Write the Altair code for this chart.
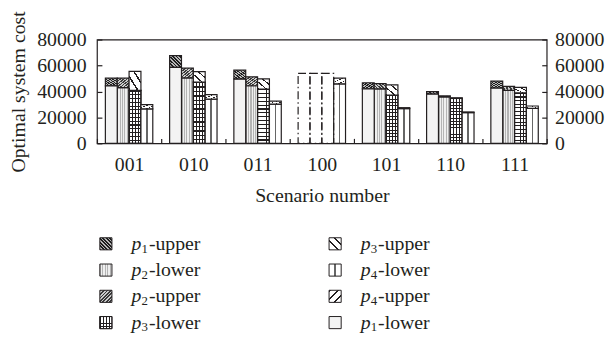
import altair as alt
import pandas as pd

# ---------------- data ----------------
scenarios = ["001", "010", "011", "100", "101", "110", "111"]
params = ["p1", "p2", "p3", "p4"]

p1_lower = [44300, 58600, 49500, None, 42000, 37900, 42600]
p1_upper = [5900, 9000, 6900, None, 4700, 2000, 5400]
p2_lower = [43000, 50500, 44400, None, 42000, 35800, 40900]
p2_upper = [7200, 7500, 6900, None, 4000, 800, 3000]
p3_lower = [40800, 47200, 41900, None, 37200, 34600, 38900]
p3_upper = [14700, 8100, 7800, None, 7800, 500, 4300]
p4_lower = [26600, 34100, 30300, 45900, 26800, 23700, 27000]
p4_upper = [3300, 3500, 2300, 4300, 700, 500, 1800]

# scenario 100: p1..p3 only drawn as dash-dot outlines
outline_scenario = "100"
outline_params = ["p1", "p2", "p3"]
outline_height = [54000, 54000, 54000]

y_ticks = [0, 20000, 40000, 60000, 80000]

legend_series = ["p1-upper", "p2-lower", "p2-upper", "p3-lower",
                 "p3-upper", "p4-lower", "p4-upper", "p1-lower"]

# ---------------- tables ----------------
lowers = {"p1": p1_lower, "p2": p2_lower, "p3": p3_lower, "p4": p4_lower}
uppers = {"p1": p1_upper, "p2": p2_upper, "p3": p3_upper, "p4": p4_upper}
rows = []
for p in params:
    for s, lo, up in zip(scenarios, lowers[p], uppers[p]):
        if lo is None:
            continue
        rows.append({"scenario": s, "p": p, "series": p + "-lower", "y0": 0, "y1": lo})
        rows.append({"scenario": s, "p": p, "series": p + "-upper", "y0": lo, "y1": lo + up})
df = pd.DataFrame(rows)

df_out = pd.DataFrame({"scenario": [outline_scenario] * len(outline_params),
                       "p": outline_params, "y0": [0] * len(outline_params),
                       "y1": outline_height})

leg_rows = []
for i, name in enumerate(legend_series):
    pp, seg = name.split("-")
    leg_rows.append({"series": name, "col": i // 4, "row": i % 4,
                     "letter": "p", "digit": pp[1], "suffix": "-" + seg})
df_leg = pd.DataFrame(leg_rows)

# ---------------- fill styles (gradients used as hatch patterns) ----------------
INK = "#231f20"
CLEAR = "rgba(0,0,0,0)"


def stripes(n, c_line, c_bg, frac, x1, y1, x2, y2):
    stops = []
    for i in range(n):
        a, b, c = i / n, (i + frac) / n, (i + 1) / n
        stops += [{"offset": a, "color": c_line}, {"offset": b, "color": c_line},
                  {"offset": b, "color": c_bg}, {"offset": c, "color": c_bg}]
    return {"gradient": "linear", "x1": x1, "y1": y1, "x2": x2, "y2": y2, "stops": stops}


def center_line(c_line, c_bg, w):
    a, b = 0.5 - w / 2, 0.5 + w / 2
    return {"gradient": "linear", "x1": 0, "y1": 0, "x2": 1, "y2": 0,
            "stops": [{"offset": 0, "color": c_bg}, {"offset": a, "color": c_bg},
                      {"offset": a, "color": c_line}, {"offset": b, "color": c_line},
                      {"offset": b, "color": c_bg}, {"offset": 1, "color": c_bg}]}


fills = {
    "p1-upper": stripes(7, "#1e1e1e", "#b8b8b8", 0.5, 0, 1, 1, 0),
    "p2-upper": stripes(7, "#3a3a3a", "#cccccc", 0.5, 0, 0, 1, 1),
    "p3-upper": stripes(3, INK, "#ffffff", 0.22, 0, 1, 1, 0),
    "p4-upper": stripes(3, INK, "#ffffff", 0.22, 0, 0, 1, 1),
    "p2-lower": stripes(5, "#b4b4b4", "#efefef", 0.45, 0, 0, 1, 0),
    "p3-lower": stripes(4, INK, "#ffffff", 0.3, 0, 0, 1, 0),
    "p4-lower": center_line("#666666", "#ffffff", 0.14),
    "p1-lower": "#f3f3f3",
}
grid_overlay_bar = stripes(14, INK, CLEAR, 0.3, 0, 0, 0, 1)
grid_overlay_sym = stripes(4, INK, CLEAR, 0.3, 0, 0, 0, 1)

# ---------------- main chart ----------------
X = alt.X("scenario:N",
          scale=alt.Scale(domain=scenarios, paddingInner=0, paddingOuter=0),
          axis=alt.Axis(labelAngle=0, offset=-5, tickSize=5, tickBand="extent",
                        labelPadding=11, titlePadding=12, domain=False, grid=False,
                        title="Scenario number"))
XO = alt.XOffset("p:N", scale=alt.Scale(domain=params, paddingInner=0, paddingOuter=0.71))
Y = alt.Y("y0:Q", scale=alt.Scale(domain=[0, 80000], nice=False),
          axis=alt.Axis(values=y_ticks, format="d", offset=-5, tickSize=5,
                        labelPadding=11, titlePadding=8, domain=False, grid=False,
                        title="Optimal system cost"))

bars = []
for name in legend_series:
    bars.append(
        alt.Chart(df).transform_filter(alt.datum.series == name)
        .mark_bar(fill=fills[name], stroke=INK, strokeWidth=1.2)
        .encode(x=X, xOffset=XO, y=Y, y2="y1")
    )
    if name == "p3-lower":
        bars.append(
            alt.Chart(df).transform_filter(alt.datum.series == name)
            .mark_bar(fill=grid_overlay_bar, stroke=INK, strokeWidth=1.2)
            .encode(x=X, xOffset=XO, y=Y, y2="y1")
        )

outline = (alt.Chart(df_out)
           .mark_bar(fill="white", fillOpacity=0, stroke=INK, strokeWidth=1.2,
                     strokeDash=[8, 3, 1.5, 3])
           .encode(x=X, xOffset=XO, y=Y, y2="y1"))

right = (alt.Chart(df).mark_bar(opacity=0)
         .encode(x=X, xOffset=XO,
                 y=alt.Y("y1:Q", scale=alt.Scale(domain=[0, 80000], nice=False),
                         axis=alt.Axis(orient="right", values=y_ticks, format="d",
                                       offset=-5, tickSize=5, labelPadding=8,
                                       domain=False, grid=False, title=None))))

main = (alt.layer(alt.layer(*bars, outline), right)
        .resolve_scale(y="independent")
        .properties(width=455, height=105,
                    view=alt.ViewBackground(stroke=INK, strokeWidth=1.2)))

# ---------------- legend panel ----------------
lx = alt.X("col:O", scale=alt.Scale(type="point", padding=0.039), axis=None)
ly = alt.Y("row:O", scale=alt.Scale(type="point", padding=0.25), axis=None)
lbase = alt.Chart(df_leg).encode(x=lx, y=ly)

leg_layers = []
for name in legend_series:
    leg_layers.append(
        lbase.transform_filter(alt.datum.series == name)
        .mark_square(size=150, fill=fills[name], stroke=INK, strokeWidth=1, opacity=1)
    )
    if name == "p3-lower":
        leg_layers.append(
            lbase.transform_filter(alt.datum.series == name)
            .mark_square(size=150, fill=grid_overlay_sym, stroke=INK, strokeWidth=1, opacity=1)
        )

txt_kw = dict(align="left", baseline="middle", font="Liberation Serif", color=INK)
leg_layers += [
    lbase.mark_text(dx=26, fontSize=20, fontStyle="italic", **txt_kw).encode(text="letter:N"),
    lbase.mark_text(dx=36, dy=5, fontSize=13, **txt_kw).encode(text="digit:N"),
    lbase.mark_text(dx=43.5, fontSize=20, **txt_kw).encode(text="suffix:N"),
]

legend = (alt.layer(*leg_layers)
          .properties(width=250, height=93,
                      view=alt.ViewBackground(strokeWidth=0, stroke="transparent")))

chart = (alt.vconcat(main, legend, spacing=27)
         .properties(padding={"top": -32, "left": 0, "right": 0, "bottom": 0})
         .configure_view(strokeWidth=0)
         .configure_axis(labelFont="Liberation Serif", labelFontSize=20,
                         titleFont="Liberation Serif", titleFontSize=20,
                         titleFontWeight="normal", labelColor=INK, titleColor=INK,
                         tickColor=INK, tickWidth=1.2))

chart.save("out.html", embed_options={"renderer": "svg", "actions": False})
